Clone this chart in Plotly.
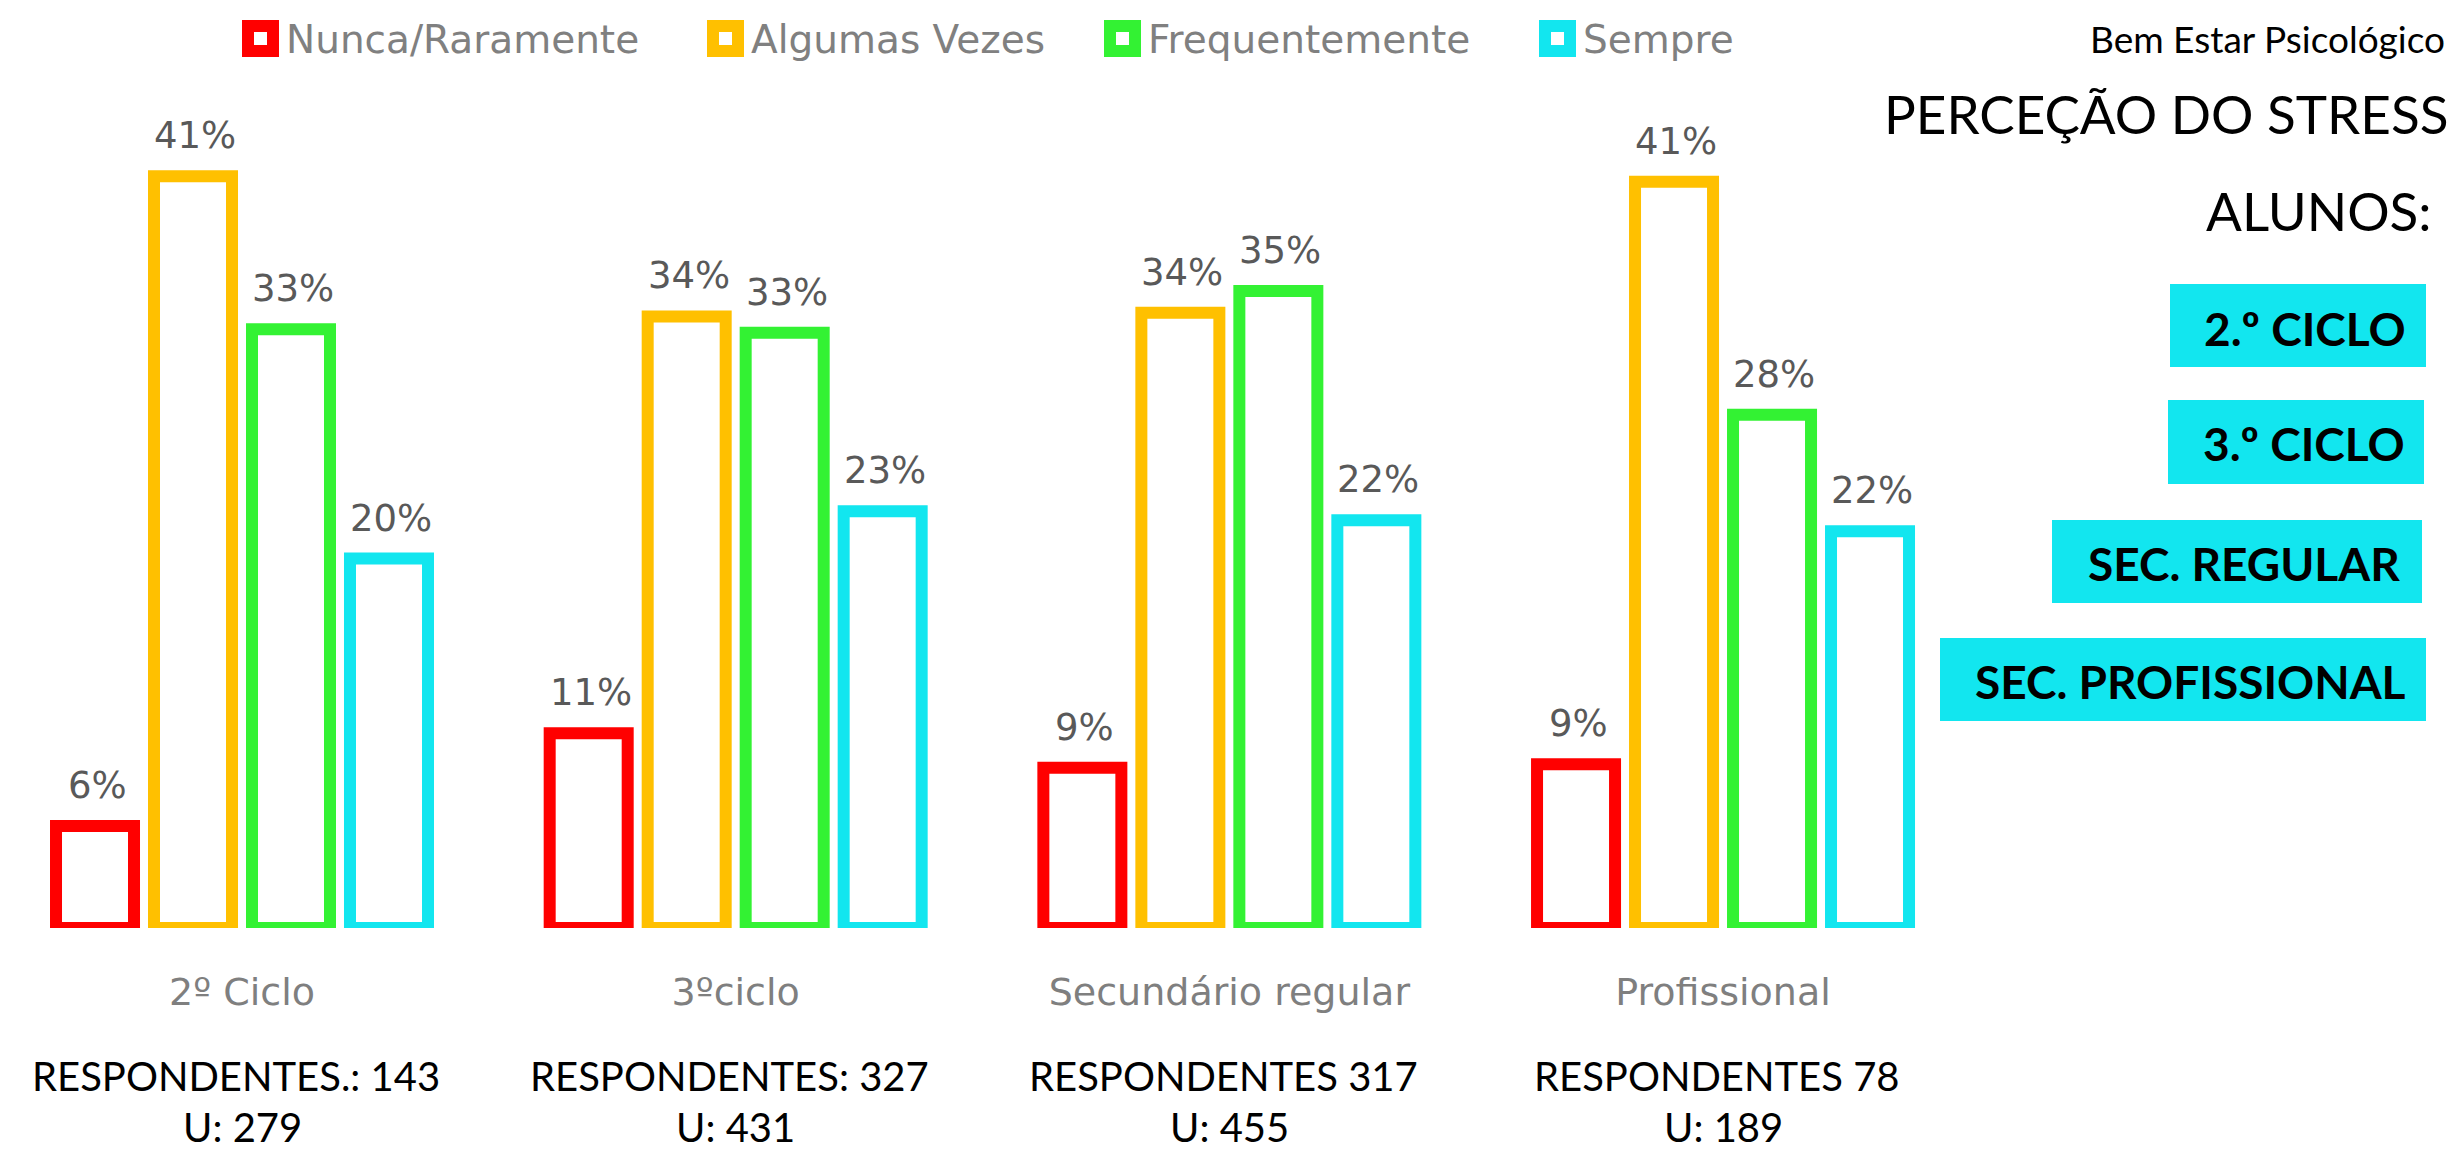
import plotly.graph_objects as go

# ---------------- data ----------------
categories = ["2º Ciclo", "3ºciclo", "Secundário regular", "Profissional"]
series_names = ["Nunca/Raramente", "Algumas Vezes", "Frequentemente", "Sempre"]
series_colors = ["#FF0000", "#FFC000", "#33F233", "#12E6EF"]

nunca_raramente = [5.6, 10.7, 8.8, 9.0]
algumas_vezes = [41.3, 33.6, 33.8, 41.0]
frequentemente = [32.9, 32.7, 35.0, 28.2]
sempre = [20.3, 22.9, 22.4, 21.8]
series_values = [nunca_raramente, algumas_vezes, frequentemente, sempre]

respondentes = ["RESPONDENTES.: 143", "RESPONDENTES: 327", "RESPONDENTES 317", "RESPONDENTES 78"]
universo = ["U: 279", "U: 431", "U: 455", "U: 189"]

header_small = "Bem Estar Psicológico"
header_title = "PERCEÇÃO DO STRESS"
header_sub = "ALUNOS:"
box_labels = ["2.º CICLO", "3.º CICLO", "SEC. REGULAR", "SEC. PROFISSIONAL"]

# ---------------- layout helpers ----------------
W, H = 2459, 1149
BARGAP = 0.206
BARGROUPGAP = 0.204
CYAN = "#12E6EF"
BASE_PX = 920   # pixel row of the zero line
TOP_PX = 10     # pixel row of y = 50


def px(x):
    return x / W


def py(y):
    return 1 - y / H


fig = go.Figure()
for name, color, vals in zip(series_names, series_colors, series_values):
    fig.add_trace(go.Bar(
        x=categories, y=vals, name=name,
        marker=dict(color="white", line=dict(color=color, width=12)),
        showlegend=False, cliponaxis=False, hoverinfo="x+y+name",
    ))

annotations = []
shapes = []

# percentage labels above bars
n = len(series_names)
slot = (1 - BARGAP) / n
for j, vals in enumerate(series_values):
    for i, v in enumerate(vals):
        annotations.append(dict(
            x=i + (j - (n - 1) / 2) * slot, y=v, xref="x", yref="y",
            text=f"{round(v):d}%", showarrow=False, yanchor="bottom",
            xshift=2, yshift=17,
            font=dict(family="DejaVu Sans", size=37, color="#595959"),
        ))

# respondents text
for i, (r, u) in enumerate(zip(respondentes, universo)):
    annotations.append(dict(
        x=i, y=py(1068), xref="x", yref="paper", text=r,
        showarrow=False, yanchor="middle", xshift=-6,
        font=dict(family="Lato", size=40, color="black"),
    ))
    annotations.append(dict(
        x=i, y=py(1144), xref="x", yref="paper", text=u,
        showarrow=False, yanchor="bottom", borderpad=0,
        font=dict(family="Lato", size=40, color="black"),
    ))

# manual legend
leg_sq_x0 = [234, 699, 1096, 1531]
for name, color, x0 in zip(series_names, series_colors, leg_sq_x0):
    shapes.append(dict(type="rect", xref="paper", yref="paper",
                       x0=px(x0), x1=px(x0 + 37), y0=py(49), y1=py(12),
                       fillcolor=color, line=dict(width=0)))
    shapes.append(dict(type="rect", xref="paper", yref="paper",
                       x0=px(x0 + 12), x1=px(x0 + 25), y0=py(37), y1=py(24),
                       fillcolor="white", line=dict(width=0)))
    annotations.append(dict(
        x=px(x0 + 42), y=py(31.5), xref="paper", yref="paper", text=name,
        showarrow=False, xanchor="left", yanchor="middle",
        font=dict(family="DejaVu Sans", size=39, color="#808080"),
    ))

# header texts on the right
annotations.append(dict(x=px(2439), y=py(30), xref="paper", yref="paper",
                        text=header_small, showarrow=False, xanchor="right",
                        yanchor="middle", font=dict(family="Lato", size=37, color="black")))
annotations.append(dict(x=px(2442), y=py(106), xref="paper", yref="paper",
                        text=header_title, showarrow=False, xanchor="right",
                        yanchor="middle", font=dict(family="Lato", size=53, color="black")))
annotations.append(dict(x=px(2426), y=py(202), xref="paper", yref="paper",
                        text=header_sub, showarrow=False, xanchor="right",
                        yanchor="middle", font=dict(family="Lato", size=53, color="black")))

# cyan boxes
box_x0 = [2162, 2160, 2044, 1932]
box_x1 = [2418, 2416, 2414, 2418]
box_y0 = [276, 392, 512, 630]
box_y1 = [359, 476, 595, 713]
box_tx = [2400, 2399, 2394, 2400]
box_ty = [320, 435, 555, 673]
for lab, x0, x1, y0, y1, tx, ty in zip(box_labels, box_x0, box_x1, box_y0, box_y1, box_tx, box_ty):
    shapes.append(dict(type="rect", xref="paper", yref="paper",
                       x0=px(x0), x1=px(x1), y0=py(y1), y1=py(y0),
                       fillcolor=CYAN, line=dict(width=0), layer="below"))
    annotations.append(dict(x=px(tx), y=py(ty), xref="paper", yref="paper",
                            text=f"<b>{lab}</b>", showarrow=False, xanchor="right",
                            yanchor="middle",
                            font=dict(family="Lato", size=46, color="black")))

fig.update_layout(
    width=W, height=H,
    margin=dict(l=0, r=0, t=0, b=0),
    paper_bgcolor="white", plot_bgcolor="white",
    barmode="group", bargap=BARGAP, bargroupgap=BARGROUPGAP,
    showlegend=False,
    xaxis=dict(type="category", range=[-0.474, 4.507], showgrid=False,
               zeroline=False, showline=False, ticks="",
               tickfont=dict(family="DejaVu Sans", size=38, color="#7F7F7F"),
               ticklabelstandoff=38),
    yaxis=dict(range=[0, 50], domain=[(H - BASE_PX) / H, (H - TOP_PX) / H],
               visible=False, fixedrange=True),
    annotations=annotations, shapes=shapes,
)

fig.write_html("out.html")
